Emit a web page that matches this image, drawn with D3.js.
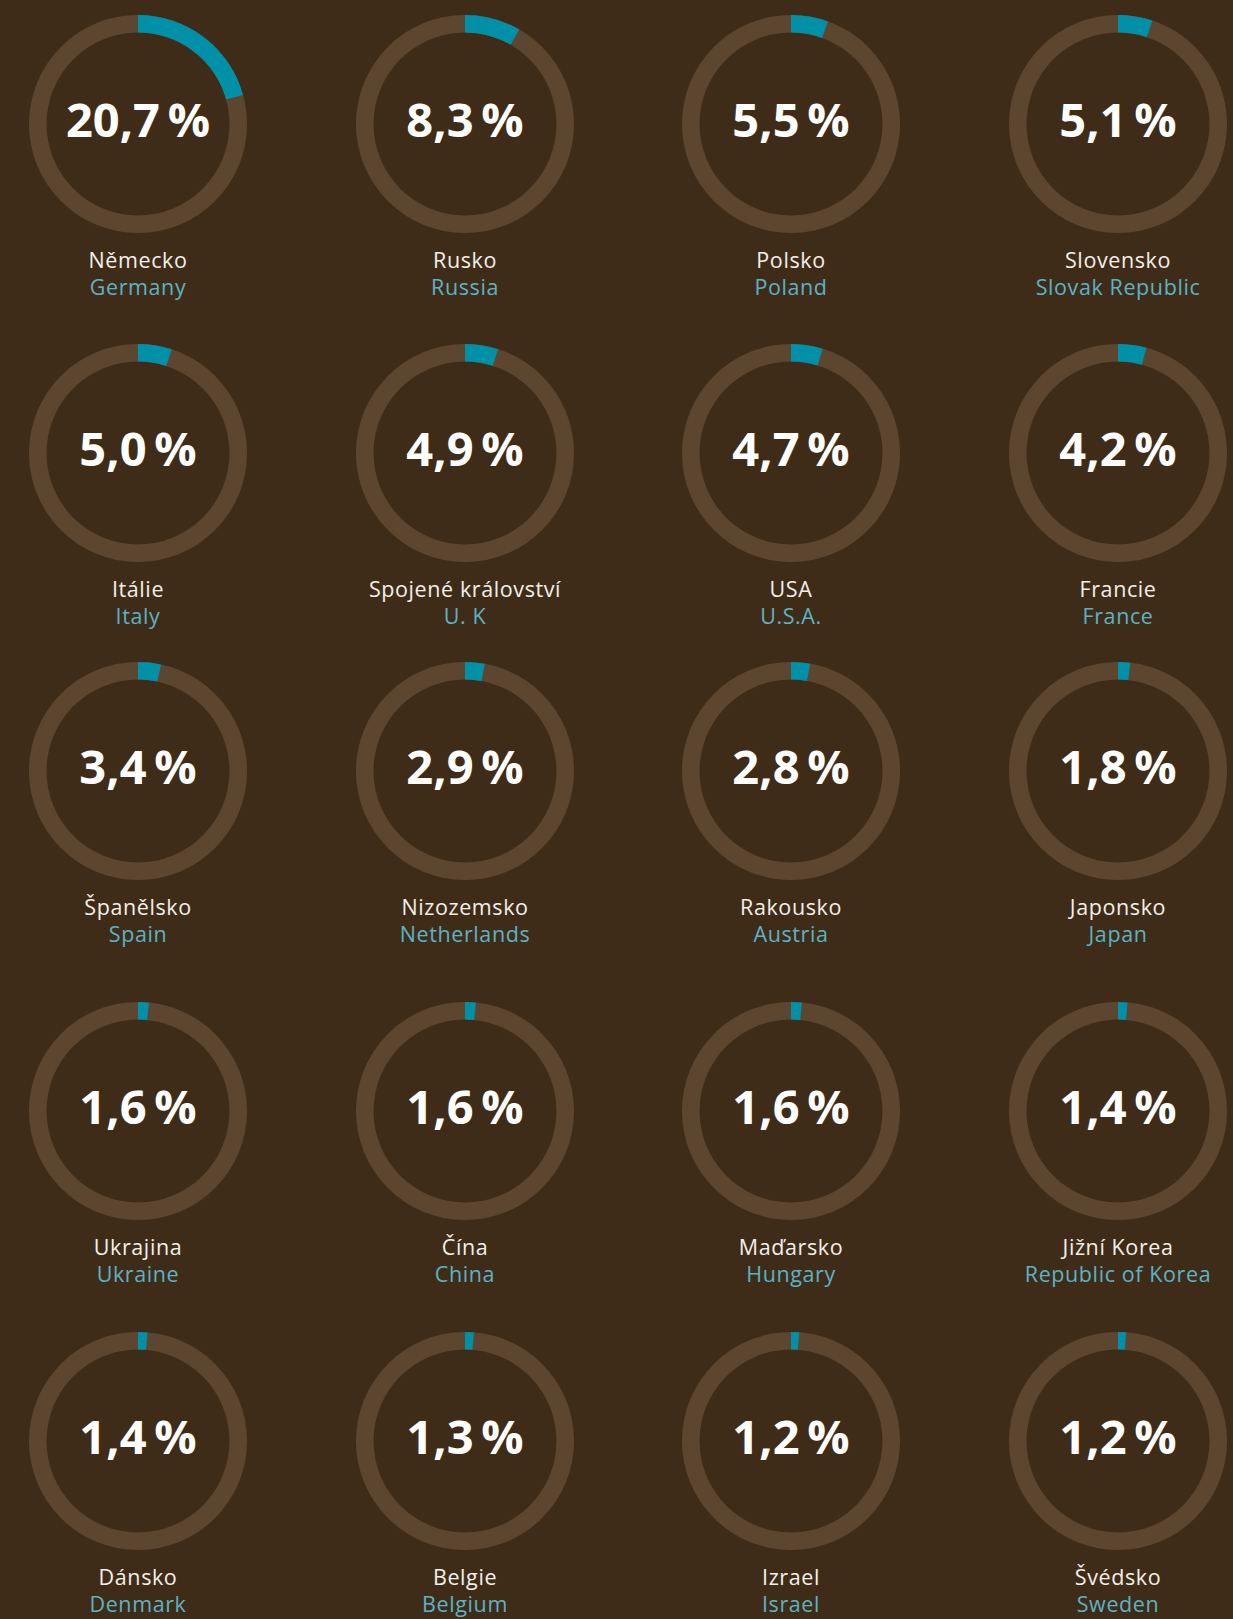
<!DOCTYPE html>
<html>
<head>
<meta charset="utf-8">
<script src="https://cdn.jsdelivr.net/npm/d3@7"></script>
<style>
  html, body { margin: 0; padding: 0; background: #3f2c18; }
  svg { display: block; }
</style>
</head>
<body>
<script>
// donnees
var nomsCz = ["Německo", "Rusko", "Polsko", "Slovensko",
  "Itálie", "Spojené království", "USA", "Francie",
  "Španělsko", "Nizozemsko", "Rakousko", "Japonsko",
  "Ukrajina", "Čína", "Maďarsko", "Jižní Korea",
  "Dánsko", "Belgie", "Izrael", "Švédsko"];
var nomsEn = ["Germany", "Russia", "Poland", "Slovak Republic",
  "Italy", "U. K", "U.S.A.", "France",
  "Spain", "Netherlands", "Austria", "Japan",
  "Ukraine", "China", "Hungary", "Republic of Korea",
  "Denmark", "Belgium", "Israel", "Sweden"];
var valeurs = [20.7, 8.3, 5.5, 5.1,
  5.0, 4.9, 4.7, 4.2,
  3.4, 2.9, 2.8, 1.8,
  1.6, 1.6, 1.6, 1.4,
  1.4, 1.3, 1.2, 1.2];

var w = 1233;
var h = 1619;
var colX = [138, 465, 791, 1118];
var rowY = [124, 453, 771, 1111, 1441];
var rOut = 109;
var rIn = 91.5;

var data = valeurs.map(function(v, i) {
  return { cz: nomsCz[i], en: nomsEn[i], val: v, col: i % 4, row: Math.floor(i / 4) };
});

var angle = d3.scaleLinear().domain([0, 100]).range([0, 2 * Math.PI]);

var arc = d3.arc()
  .innerRadius(rIn)
  .outerRadius(rOut)
  .startAngle(0);

var svg = d3.select("body")
  .append("svg")
  .attr("width", w)
  .attr("height", h);

svg.append("rect")
  .attr("width", w)
  .attr("height", h)
  .style("fill", "#3f2c18");

var g = svg.selectAll(".pays")
  .data(data)
  .enter()
  .append("g")
  .attr("class", "pays")
  .attr("transform", function(d) { return "translate(" + colX[d.col] + "," + rowY[d.row] + ")"; });

// anneau de fond
g.append("path")
  .attr("d", function() { return arc({ endAngle: 2 * Math.PI }); })
  .style("fill", "#5d4630");

// part
g.append("path")
  .attr("d", function(d) { return arc({ endAngle: angle(d.val) }); })
  .style("fill", "#0090a8");

g.append("text")
  .text(function(d) { return d.val.toFixed(1).replace(".", ",") + "\u2009%"; })
  .attr("y", 13)
  .attr("text-anchor", "middle")
  .style("font-family", "'Open Sans', 'Noto Sans', sans-serif")
  .style("font-weight", "700")
  .style("font-size", "47px")
  .style("fill", "#ffffff");

g.append("text")
  .text(function(d) { return d.cz; })
  .attr("y", 144)
  .attr("text-anchor", "middle")
  .style("font-family", "'Open Sans', 'Noto Sans', sans-serif")
  .style("font-size", "21.5px")
  .style("letter-spacing", "0.6px")
  .style("fill", "#f3efe9");

g.append("text")
  .text(function(d) { return d.en; })
  .attr("y", 171)
  .attr("text-anchor", "middle")
  .style("font-family", "'Open Sans', 'Noto Sans', sans-serif")
  .style("font-size", "21.5px")
  .style("letter-spacing", "0.6px")
  .style("fill", "#5bb3c5");
</script>
</body>
</html>
